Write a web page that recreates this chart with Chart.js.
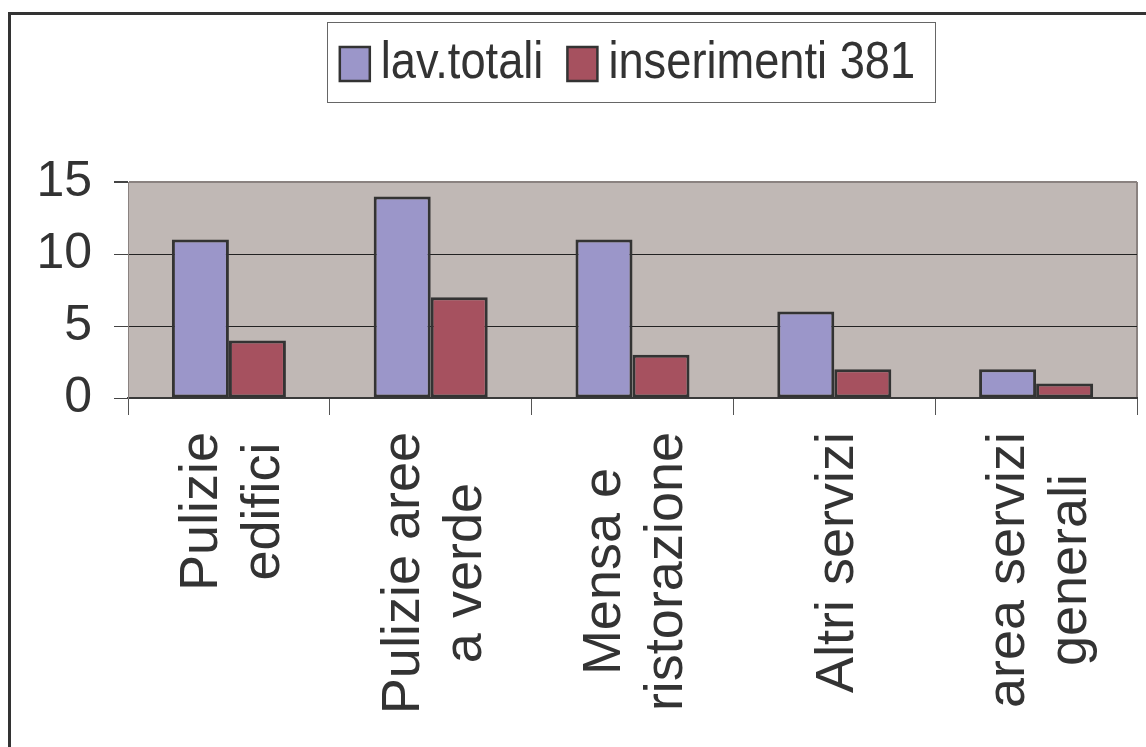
<!DOCTYPE html>
<html>
<head>
<meta charset="utf-8">
<script src="https://cdn.jsdelivr.net/npm/chart.js@4.4.1/dist/chart.umd.min.js"></script>
<style>
  html, body { margin: 0; padding: 0; background: #fff; }
  #wrap { width: 1146px; height: 747px; }
</style>
</head>
<body>
<div id="wrap"><canvas id="myChart"></canvas></div>
<script>
// values
const categories = [
    ['Pulizie', 'edifici'],
    ['Pulizie aree', 'a verde'],
    ['Mensa e', 'ristorazione'],
    ['Altri servizi'],
    ['area servizi', 'generali']
];
const lavTotali = [11, 14, 11, 6, 2];
const inserimenti381 = [4, 7, 3, 2, 1];
const yTicks = [0, 5, 10, 15];

const mainFont = "'Liberation Sans', Arial, sans-serif";
const textColor = '#333333';

// grey plot area, right edge and the frame round the whole picture
const framePlugin = {
    id: 'frame',
    beforeDraw(chart) {
        const {ctx, chartArea: a} = chart;
        ctx.save();
        ctx.fillStyle = '#c0b8b5';
        ctx.fillRect(a.left, a.top, a.right - a.left, a.bottom - a.top);
        ctx.strokeStyle = '#8a8280';
        ctx.lineWidth = 2;
        ctx.beginPath();
        ctx.moveTo(a.right, a.top);
        ctx.lineTo(a.right, a.bottom);
        ctx.stroke();
        ctx.strokeStyle = '#333';
        ctx.lineWidth = 3;
        ctx.beginPath();
        ctx.moveTo(9.5, chart.height);
        ctx.lineTo(9.5, 13.5);
        ctx.lineTo(chart.width, 13.5);
        ctx.stroke();
        ctx.restore();
    }
};

// legend in a box, squares close to the (narrow) text
const boxLegend = {
    id: 'boxLegend',
    afterDraw(chart) {
        const ctx = chart.ctx;
        const a = chart.chartArea;
        const sets = chart.data.datasets;
        const squeeze = 0.87;
        ctx.save();
        ctx.font = "52px " + mainFont;
        const sq = 30, gap = 11, itemGap = 24;
        const widths = sets.map(d => ctx.measureText(d.label).width * squeeze);
        let total = 0;
        widths.forEach((w, i) => { total += sq + gap + w + (i ? itemGap : 0); });
        const cx = (a.left + a.right) / 2 - 5;
        let x = cx - total / 2;
        const midY = 64;
        ctx.strokeStyle = '#666';
        ctx.lineWidth = 1;
        ctx.strokeRect(Math.round(x - 13) + 0.5, 22.5, Math.round(total + 33), 80);
        sets.forEach((d, i) => {
            ctx.fillStyle = d.backgroundColor;
            ctx.fillRect(x, midY - 17, sq, 34);
            ctx.strokeStyle = '#333';
            ctx.lineWidth = 2.5;
            ctx.strokeRect(x, midY - 17, sq, 34);
            ctx.save();
            ctx.translate(x + sq + gap, midY);
            ctx.scale(squeeze, 1);
            ctx.fillStyle = textColor;
            ctx.textBaseline = 'middle';
            ctx.textAlign = 'left';
            ctx.fillText(d.label, 0, 0);
            ctx.restore();
            x += sq + gap + widths[i] + itemGap;
        });
        ctx.restore();
    }
};

// upright category labels, lines centred on each other
const rotatedLabels = {
    id: 'rotatedLabels',
    afterDraw(chart) {
        const ctx = chart.ctx;
        const xs = chart.scales.x;
        ctx.save();
        ctx.font = "54px " + mainFont;
        ctx.fillStyle = textColor;
        ctx.textAlign = 'center';
        ctx.textBaseline = 'middle';
        const lh = 62;
        categories.forEach((lines, i) => {
            const px = xs.getPixelForValue(i) + 4;
            const maxW = Math.max(...lines.map(s => ctx.measureText(s).width));
            const cy = 432 + maxW / 2;
            lines.forEach((s, j) => {
                const off = (j - (lines.length - 1) / 2) * lh;
                ctx.save();
                ctx.translate(px + off, cy);
                ctx.rotate(-Math.PI / 2);
                ctx.fillText(s, 0, 0);
                ctx.restore();
            });
        });
        ctx.restore();
    }
};

const ctx = document.getElementById('myChart');
new Chart(ctx, {
    type: 'bar',
    data: {
        labels: categories.map(c => c.join(' ')),
        datasets: [{
            label: 'lav.totali',
            data: lavTotali,
            backgroundColor: '#9b96c9',
            borderColor: '#333',
            borderWidth: 3,
            borderSkipped: false
        }, {
            label: 'inserimenti 381',
            data: inserimenti381,
            backgroundColor: '#a6515f',
            borderColor: '#333',
            borderWidth: 3,
            borderSkipped: false
        }]
    },
    options: {
        responsive: true,
        maintainAspectRatio: false,
        animation: false,
        layout: {
            padding: {top: 182, right: 9, bottom: 0, left: 0}
        },
        datasets: {
            bar: {barPercentage: 1.0, categoryPercentage: 0.565}
        },
        scales: {
            x: {
                grid: {
                    offset: true,
                    drawOnChartArea: false,
                    drawTicks: true,
                    tickLength: 17,
                    color: '#555'
                },
                border: {color: '#3a3a3a', width: 2},
                ticks: {display: false},
                afterFit(scale) { scale.height = 349; }
            },
            y: {
                min: 0,
                max: 15,
                afterBuildTicks(scale) { scale.ticks = yTicks.map(v => ({value: v})); },
                grid: {
                    color: c => (c.tick && c.tick.value === 15) ? '#8a8280' : '#222',
                    lineWidth: c => (c.tick && c.tick.value === 15) ? 2 : 1,
                    tickLength: 14,
                    tickColor: '#444'
                },
                border: {color: '#8a8280', width: 1},
                ticks: {
                    color: textColor,
                    padding: 22,
                    font: {family: mainFont, size: 50}
                },
                afterFit(scale) { scale.width = 128; }
            }
        },
        plugins: {
            legend: {display: false},
            tooltip: {enabled: false}
        }
    },
    plugins: [framePlugin, boxLegend, rotatedLabels]
});
</script>
</body>
</html>
